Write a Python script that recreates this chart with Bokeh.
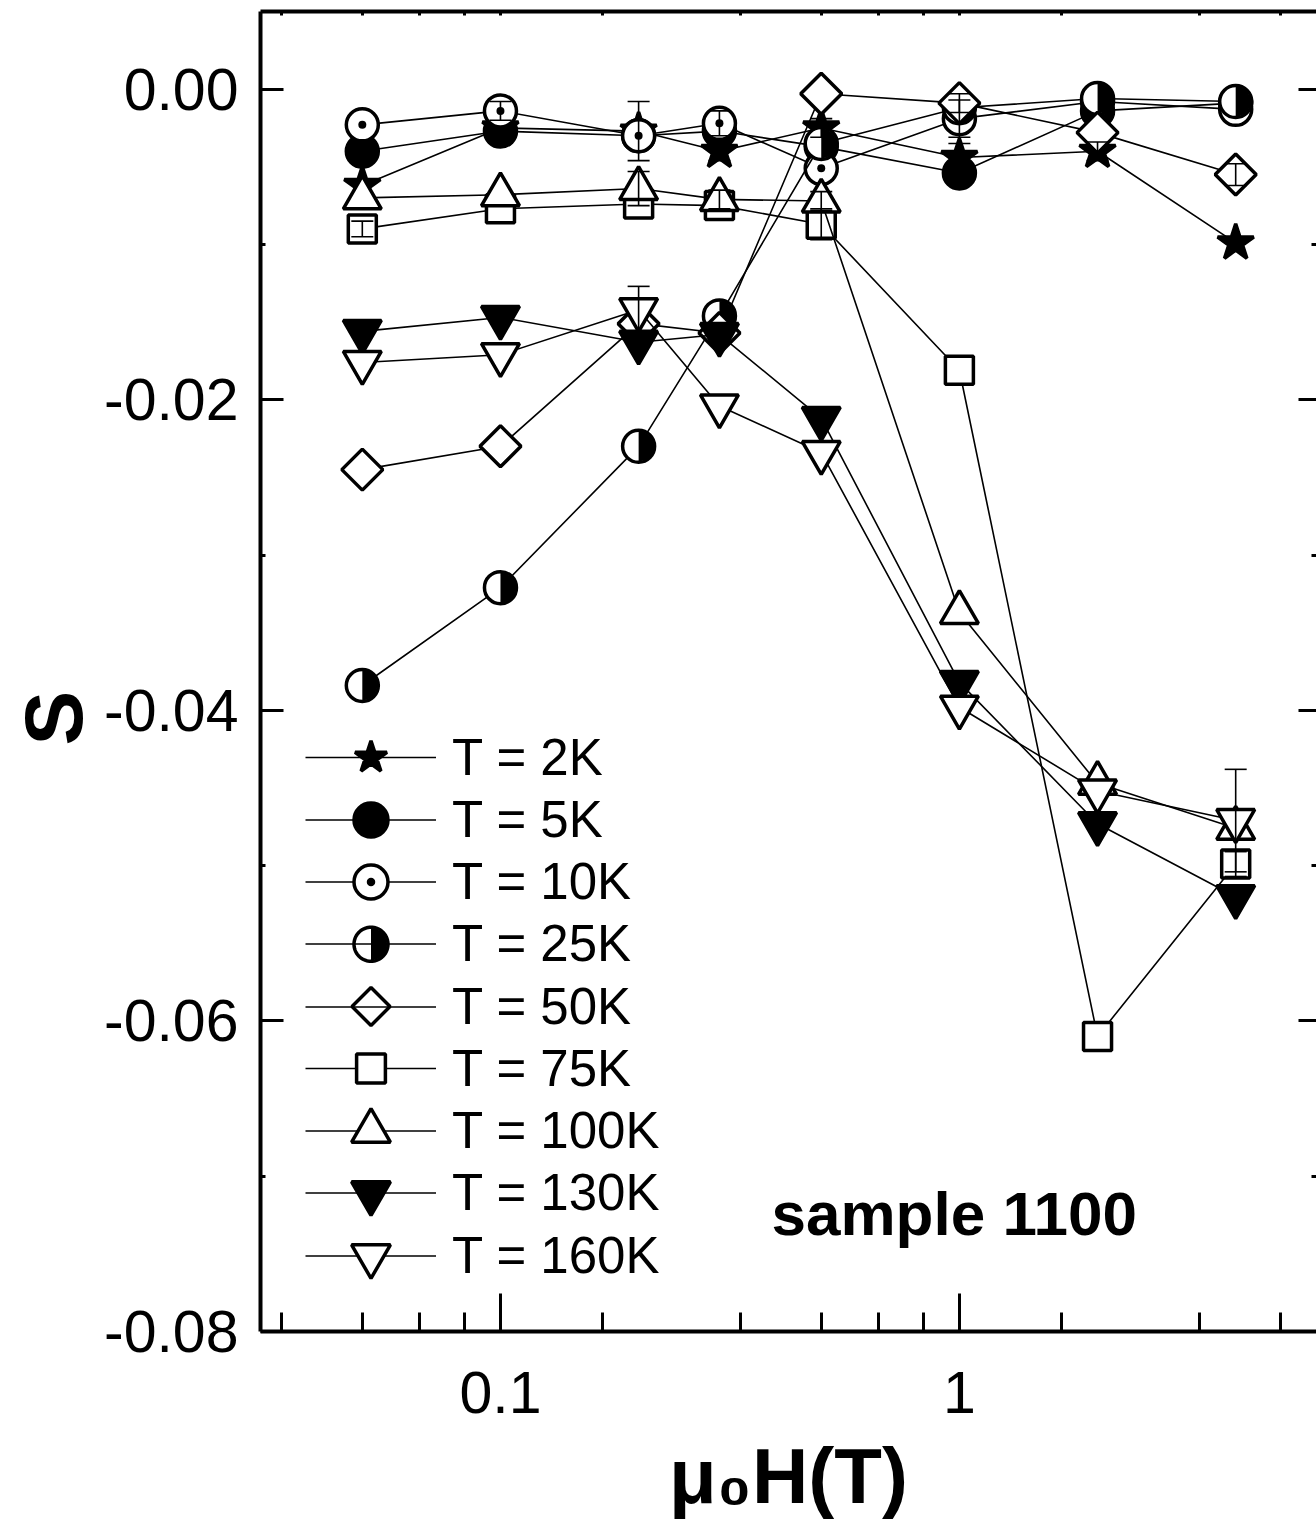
import numpy as np
from bokeh.plotting import figure
from bokeh.models import (FixedTicker, CustomJSTickFormatter, PrintfTickFormatter, LinearAxis, LogAxis,
                          Label, Legend, LegendItem, Whisker, ColumnDataSource, TeeHead, PolyAnnotation,
                          Title)
from bokeh.embed import file_html
from bokeh.resources import INLINE

# ---------------- data ----------------
field_T = [0.05, 0.1, 0.2, 0.3, 0.5, 1.0, 2.0, 4.0]

series_labels = ["T = 2K", "T = 5K", "T = 10K", "T = 25K", "T = 50K",
                 "T = 75K", "T = 100K", "T = 130K", "T = 160K"]

S_2K   = [-0.0062, -0.0025, -0.0027, -0.0040, -0.0025, -0.0044, -0.0040, -0.0099]
S_5K   = [-0.0040, -0.0027, -0.0030, -0.0027, -0.0037, -0.0054, -0.0014, -0.0009]
S_10K  = [-0.0023, -0.0014, -0.0030, -0.0022, -0.0051, -0.0019, -0.0008, -0.0013]
S_25K  = [-0.0384, -0.0321, -0.0230, -0.0146, -0.0035, -0.0012, -0.0006, -0.0008]
S_50K  = [-0.0245, -0.0230, -0.0151, -0.0157, -0.0003, -0.0009, -0.0028, -0.0055]
S_75K  = [-0.0090, -0.0077, -0.0074, -0.0075, -0.0087, -0.0181, -0.0610, -0.0499]
S_100K = [-0.0070, -0.0068, -0.0064, -0.0071, -0.0072, -0.0337, -0.0447, -0.0476]
S_130K = [-0.0156, -0.0147, -0.0163, -0.0158, -0.0212, -0.0382, -0.0473, -0.0520]
S_160K = [-0.0176, -0.0171, -0.0142, -0.0204, -0.0234, -0.0398, -0.0452, -0.0471]

err_2K   = [0, 0, 0.0019, 0.0006, 0.0006, 0.0009, 0.0006, 0]
err_10K  = [0, 0.0006, 0, 0.0008, 0, 0.0012, 0, 0]
err_50K  = [0, 0, 0, 0, 0, 0.0006, 0, 0.0007]
err_75K  = [0.0005, 0, 0, 0, 0.0010, 0, 0, 0.0008]
err_100K = [0, 0, 0.0011, 0.0006, 0.0006, 0, 0, 0]
err_160K = [0, 0, 0.0015, 0, 0, 0, 0, 0.0033]

x_major = [0.1, 1.0]
x_minor = [0.0333, 0.05, 0.0667, 0.0833, 0.1667, 0.3333, 0.5, 0.6667, 0.8333, 1.667, 3.333, 5.0]
y_major = [0.0, -0.02, -0.04, -0.06, -0.08]
y_minor = [-0.01, -0.03, -0.05, -0.07]

FONT = "Liberation Sans"

# ---------------- figure ----------------
p = figure(width=1316, height=1540, x_axis_type="log", x_range=(0.03, 6.0), y_range=(-0.08, 0.005),
           output_backend="svg", toolbar_location=None, title=None,
           min_border_left=260, min_border_right=0, min_border_top=11, min_border_bottom=209,
           background_fill_color="white", border_fill_color="white", outline_line_color=None)
p.xgrid.visible = False
p.ygrid.visible = False


def style_axis(ax, tick_in, minor_in, show_labels=True, line=True):
    ax.major_tick_in = tick_in
    ax.major_tick_out = 0
    ax.minor_tick_in = minor_in
    ax.minor_tick_out = 0
    ax.axis_line_width = 4
    ax.axis_line_color = "black" if line else None
    ax.major_tick_line_width = 3
    ax.minor_tick_line_width = 3
    ax.major_tick_line_color = "black"
    ax.minor_tick_line_color = "black"
    ax.major_label_text_font = FONT
    ax.major_label_text_font_style = "normal"
    ax.major_label_text_color = "black"
    if show_labels:
        ax.major_label_text_font_size = "59px"
    else:
        ax.major_label_text_font_size = "0px"
        ax.major_label_text_color = None
        ax.major_label_standoff = 0


xax = p.xaxis[0]
xax.ticker = FixedTicker(ticks=x_major, minor_ticks=x_minor)
xax.formatter = CustomJSTickFormatter(code="return tick >= 1 ? tick.toFixed(0) : tick.toFixed(1);")
style_axis(xax, 38, 19)
xax.major_label_standoff = 40
xax.axis_label = "μ₀H(T)"
xax.axis_label_text_font = FONT
xax.axis_label_text_font_size = "78px"
xax.axis_label_text_font_style = "bold"
xax.axis_label_text_color = "black"
xax.axis_label_standoff = 16

yax = p.yaxis[0]
yax.ticker = FixedTicker(ticks=y_major, minor_ticks=y_minor)
yax.formatter = PrintfTickFormatter(format="%.2f")
style_axis(yax, 23, 5)
yax.major_label_standoff = 22

# y title as a side title so it can be shifted along the axis (start near bottom of "S")
p.add_layout(Title(text="S", align="left", offset=586, standoff=6, text_font=FONT,
                   text_font_size="82px", text_font_style="bold", text_color="black"), "left")

top_ax = LogAxis(ticker=FixedTicker(ticks=x_major, minor_ticks=x_minor))
style_axis(top_ax, 4, 4, show_labels=False)
p.add_layout(top_ax, "above")

right_ax = LinearAxis(ticker=FixedTicker(ticks=y_major, minor_ticks=y_minor))
style_axis(right_ax, 18, 5, show_labels=False, line=False)
p.add_layout(right_ax, "right")

# ---------------- series ----------------
series = [S_2K, S_5K, S_10K, S_25K, S_50K, S_75K, S_100K, S_130K, S_160K]
styles = [
    dict(marker="star", size=38, fill_color="black", leg=84),
    dict(marker="circle", size=32, fill_color="black", leg=85),
    dict(marker="circle_dot", size=32, fill_color="white", leg=85),
    dict(marker="half", size=32, fill_color="white", leg=85),
    dict(marker="diamond", size=41, fill_color="white", leg=85),
    dict(marker="square", size=28, fill_color="white", leg=72),
    dict(marker="triangle", size=38, fill_color="white", leg=97),
    dict(marker="inverted_triangle", size=38, fill_color="black", leg=97),
    dict(marker="inverted_triangle", size=38, fill_color="white", leg=97),
]

MW = 3.5
leg_renderers = []
for lab, vals, st in zip(series_labels, series, styles):
    src = ColumnDataSource(dict(x=field_T, y=vals))
    lr = p.line("x", "y", source=src, line_color="black", line_width=1.6)
    rlist = [lr]
    if st["marker"] == "diamond":
        p.scatter("x", "y", source=src, marker="square", size=st["size"] / np.sqrt(2), angle=np.pi / 4,
                  fill_color="white", line_color="black", line_width=MW)
    elif st["marker"] == "half":
        p.scatter("x", "y", source=src, marker="circle", size=st["size"],
                  fill_color="white", line_color="black", line_width=MW)
        p.wedge("x", "y", source=src, radius=st["size"] / 2 - 1, radius_units="screen",
                start_angle=-np.pi / 2, end_angle=np.pi / 2, fill_color="black", line_color=None)
    else:
        mr = p.scatter("x", "y", source=src, marker=st["marker"], size=st["size"],
                       fill_color=st["fill_color"], line_color="black", line_width=MW)
        rlist.append(mr)
    leg_renderers.append(rlist)

# ---------------- error bars ----------------
err_map = {0: err_2K, 2: err_10K, 4: err_50K, 5: err_75K, 6: err_100K, 8: err_160K}
ex, elo, ehi = [], [], []
for idx, errs in err_map.items():
    for xv, yv, ev in zip(field_T, series[idx], errs):
        if ev > 0:
            ex.append(xv)
            elo.append(yv - ev)
            ehi.append(yv + ev)
esrc = ColumnDataSource(dict(base=ex, lower=elo, upper=ehi))
wh = Whisker(source=esrc, base="base", lower="lower", upper="upper", dimension="height",
             line_color="black", line_width=1.6, level="overlay",
             upper_head=TeeHead(size=22, line_width=1.6, line_color="black"),
             lower_head=TeeHead(size=22, line_width=1.6, line_color="black"))
p.add_layout(wh)

# ---------------- legend (one per row, frame-relative screen units) ----------------
LEG_X = 45          # left end of sample line, from frame left
ROW0 = 574          # centre of first row, above frame bottom
PITCH = 62.25
GLYPH_W = 131
cx = LEG_X + GLYPH_W / 2
extra_shapes = []
for k, (lab, st, rl) in enumerate(zip(series_labels, styles, leg_renderers)):
    cy = ROW0 - k * PITCH
    gh = st["leg"]
    lg = Legend(items=[LegendItem(label=lab, renderers=rl)], location=(LEG_X, cy - gh / 2),
                glyph_width=GLYPH_W, glyph_height=gh, label_height=gh, padding=0, margin=0,
                spacing=0, label_standoff=16, border_line_color=None, background_fill_alpha=0,
                label_text_font=FONT, label_text_font_size="51px", label_text_color="black",
                level="annotation")
    p.add_layout(lg)
    if st["marker"] == "diamond":
        r = 19
        extra_shapes.append(dict(xs=[cx - r, cx, cx + r, cx], ys=[cy, cy + r, cy, cy - r],
                                 fill_color="white", line_color="black"))
    if st["marker"] == "half":
        rr = 0.4 * gh / 2
        tt = np.linspace(0, 2 * np.pi, 73)
        extra_shapes.append(dict(xs=list(cx + rr * np.cos(tt)), ys=list(cy + rr * np.sin(tt)),
                                 fill_color="white", line_color="black"))
        th = np.linspace(-np.pi / 2, np.pi / 2, 37)
        extra_shapes.append(dict(xs=list(cx + (rr - 1) * np.cos(th)), ys=list(cy + (rr - 1) * np.sin(th)),
                                 fill_color="black", line_color=None))

for shp in extra_shapes:
    p.add_layout(PolyAnnotation(xs=shp["xs"], ys=shp["ys"], xs_units="screen", ys_units="screen",
                                fill_color=shp["fill_color"], fill_alpha=1,
                                line_color=shp["line_color"], line_alpha=1, line_width=MW,
                                level="annotation"))

# annotation text inside the frame
p.add_layout(Label(x=511, y=118, x_units="screen", y_units="screen", text="sample 1100",
                   text_font=FONT, text_font_size="62px", text_font_style="bold",
                   text_color="black", text_baseline="alphabetic"))

open("out.html", "w").write(file_html(p, INLINE))
